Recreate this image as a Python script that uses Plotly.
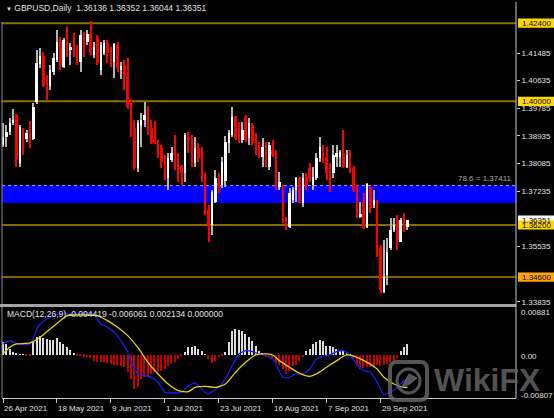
import plotly.graph_objects as go

# ---------------- GBPUSD daily candles (26 Apr 2021 -> 11 Oct 2021) ----------------
opens = [1.38658, 1.38904, 1.39058, 1.39334, 1.39580, 1.38105, 1.39088, 1.38843, 1.38966, 1.38843,
         1.39979, 1.41147, 1.41393, 1.40563, 1.40471, 1.40901, 1.41270, 1.41823, 1.41055, 1.42038,
         1.41577, 1.41577, 1.41485, 1.41208, 1.42038, 1.41823, 1.42069, 1.41423, 1.41976, 1.40962,
         1.41485, 1.41792, 1.41515, 1.41208, 1.41731, 1.40962, 1.41116, 1.40778, 1.39856, 1.39181,
         1.37952, 1.39242, 1.39426, 1.39549, 1.39181, 1.38843, 1.38751, 1.38597, 1.38290, 1.37644,
         1.38197, 1.38351, 1.37982, 1.38013, 1.37798, 1.38904, 1.38873, 1.38105, 1.38566, 1.38259,
         1.37737, 1.36661, 1.36201, 1.36907, 1.37491, 1.37429, 1.37552, 1.38720, 1.38966, 1.39519,
         1.39027, 1.38812, 1.39519, 1.38873, 1.39273, 1.38751, 1.38443, 1.38290, 1.38658, 1.37982,
         1.38505, 1.38443, 1.37368, 1.37368, 1.36416, 1.36139, 1.36969, 1.37276, 1.37644, 1.36876,
         1.37675, 1.37952, 1.37429, 1.37644, 1.38259, 1.38566, 1.38290, 1.37890, 1.37798, 1.38290,
         1.38290, 1.38413, 1.37982, 1.38259, 1.37952, 1.37368, 1.36446, 1.36907, 1.36139, 1.37368,
         1.36815, 1.36907, 1.35525, 1.34142, 1.34664, 1.35494, 1.36047, 1.36354, 1.35678, 1.36416,
         1.36136]
highs = [1.39334, 1.39273, 1.39488, 1.39764, 1.39611, 1.39273, 1.39181, 1.39119, 1.39396, 1.39949,
         1.41577, 1.41638, 1.41515, 1.40809, 1.41116, 1.41485, 1.42191, 1.41976, 1.41946, 1.42284,
         1.41792, 1.42099, 1.41731, 1.42191, 1.42130, 1.42191, 1.42468, 1.41823, 1.42038, 1.41823,
         1.41884, 1.41884, 1.41669, 1.41792, 1.41823, 1.41208, 1.41270, 1.41331, 1.40072, 1.39426,
         1.39426, 1.39641, 1.39979, 1.39856, 1.39426, 1.39396, 1.38812, 1.38658, 1.38351, 1.38413,
         1.38597, 1.38966, 1.38413, 1.38044, 1.39027, 1.39058, 1.38966, 1.38904, 1.38720, 1.38597,
         1.37798, 1.36815, 1.37276, 1.37890, 1.37798, 1.38290, 1.38935, 1.39119, 1.39826, 1.39549,
         1.39365, 1.39365, 1.39580, 1.39488, 1.39334, 1.39027, 1.38751, 1.38873, 1.38751, 1.38751,
         1.38812, 1.38505, 1.37829, 1.37429, 1.36446, 1.37337, 1.37368, 1.37675, 1.37675, 1.37798,
         1.37798, 1.38105, 1.37982, 1.38413, 1.38904, 1.38658, 1.38597, 1.38105, 1.38658, 1.38658,
         1.38505, 1.39119, 1.38505, 1.38505, 1.38013, 1.37429, 1.36907, 1.37184, 1.37491, 1.37399,
         1.37276, 1.36969, 1.35586, 1.35740, 1.35801, 1.36416, 1.36416, 1.36508, 1.36416, 1.36569,
         1.36352]
lows = [1.38597, 1.38597, 1.38966, 1.39273, 1.37982, 1.37982, 1.38351, 1.38751, 1.38566, 1.38812,
        1.39918, 1.41024, 1.40440, 1.40041, 1.40348, 1.40809, 1.41208, 1.40962, 1.41024, 1.41362,
        1.41116, 1.41362, 1.41116, 1.40901, 1.41362, 1.41731, 1.41423, 1.41331, 1.41116, 1.40809,
        1.41423, 1.41177, 1.41055, 1.40717, 1.40901, 1.40686, 1.40348, 1.39764, 1.38904, 1.37890,
        1.37829, 1.38597, 1.39211, 1.38966, 1.38689, 1.38689, 1.38259, 1.37952, 1.37583, 1.37276,
        1.38136, 1.37890, 1.37522, 1.37429, 1.37522, 1.38413, 1.37982, 1.37982, 1.38136, 1.37522,
        1.36508, 1.35678, 1.35893, 1.36876, 1.37184, 1.37337, 1.37368, 1.38413, 1.38904, 1.38812,
        1.38720, 1.38720, 1.38751, 1.38658, 1.38658, 1.38351, 1.38259, 1.37982, 1.37982, 1.37890,
        1.38290, 1.37276, 1.37276, 1.36262, 1.36047, 1.36108, 1.36876, 1.36907, 1.36876, 1.36754,
        1.37276, 1.37522, 1.37276, 1.37583, 1.38136, 1.38105, 1.37583, 1.37214, 1.37644, 1.37982,
        1.37982, 1.37952, 1.37952, 1.37798, 1.37214, 1.36416, 1.36416, 1.36078, 1.36108, 1.36569,
        1.36723, 1.35217, 1.34112, 1.34112, 1.34357, 1.35433, 1.35986, 1.35433, 1.35678, 1.35986,
        1.36044]
closes = [1.38904, 1.39058, 1.39334, 1.39426, 1.38197, 1.39211, 1.38843, 1.39027, 1.38843, 1.39826,
          1.41177, 1.41393, 1.40471, 1.40471, 1.40962, 1.41331, 1.41823, 1.41116, 1.41884, 1.41423,
          1.41669, 1.41485, 1.41177, 1.42038, 1.41792, 1.42069, 1.41485, 1.41669, 1.41177, 1.41731,
          1.41792, 1.41485, 1.41116, 1.41761, 1.41024, 1.41085, 1.40778, 1.39826, 1.39181, 1.37952,
          1.39334, 1.39426, 1.39580, 1.39119, 1.38720, 1.38751, 1.38290, 1.38136, 1.37644, 1.38259,
          1.38413, 1.37952, 1.37921, 1.37798, 1.38966, 1.38812, 1.38105, 1.38566, 1.38259, 1.37583,
          1.36661, 1.36139, 1.37214, 1.37644, 1.37399, 1.38136, 1.38751, 1.39027, 1.39519, 1.38873,
          1.38751, 1.39119, 1.38812, 1.39334, 1.38720, 1.38443, 1.38290, 1.38597, 1.38351, 1.38658,
          1.38351, 1.37368, 1.37522, 1.36293, 1.36139, 1.37184, 1.37276, 1.37644, 1.36907, 1.37644,
          1.37429, 1.37644, 1.37675, 1.38259, 1.38597, 1.38259, 1.37798, 1.37644, 1.38351, 1.38413,
          1.38443, 1.37982, 1.38351, 1.37829, 1.37276, 1.36446, 1.36538, 1.36108, 1.37460, 1.36723,
          1.36969, 1.35494, 1.34204, 1.34603, 1.35371, 1.36047, 1.36201, 1.35740, 1.36354, 1.36047,
          1.36351]

# ---------------- MACD(12,26,9) sub-window ----------------
macd_hist = [0.00238, 0.00206, 0.00113, 0.00050, 0.00019, 0.00006, 0.00013, -0.00006, -0.00025, 0.00238,
             0.00331, 0.00350, 0.00313, 0.00300, 0.00288, 0.00288, 0.00313, 0.00238, 0.00206, 0.00144,
             0.00100, 0.00019, -0.00025, -0.00025, -0.00031, -0.00044, -0.00063, -0.00106, -0.00138, -0.00138,
             -0.00138, -0.00150, -0.00169, -0.00188, -0.00188, -0.00213, -0.00231, -0.00325, -0.00450, -0.00638,
             -0.00606, -0.00450, -0.00419, -0.00388, -0.00356, -0.00325, -0.00325, -0.00294, -0.00263, -0.00213,
             -0.00169, -0.00125, -0.00075, -0.00025, 0.00063, 0.00144, 0.00144, 0.00175, 0.00113, 0.00081,
             0.00003, -0.00075, -0.00150, -0.00106, -0.00044, -0.00002, 0.00063, 0.00238, 0.00456, 0.00488,
             0.00475, 0.00456, 0.00394, 0.00331, 0.00269, 0.00175, 0.00081, 0.00038, -0.00044, -0.00044,
             -0.00075, -0.00125, -0.00188, -0.00263, -0.00356, -0.00294, -0.00213, -0.00188, -0.00106, -0.00044,
             0.00081, 0.00113, 0.00206, 0.00250, 0.00288, 0.00269, 0.00175, 0.00175, 0.00144, 0.00113,
             0.00081, 0.00081, 0.00038, 0.00002, -0.00075, -0.00213, -0.00263, -0.00250, -0.00231, -0.00231,
             -0.00213, -0.00188, -0.00213, -0.00188, -0.00169, -0.00138, -0.00106, -0.00063, 0.00081, 0.00144,
             0.002134]

macd_idx = [0, 2, 3, 5, 8, 9, 10, 11, 13, 15, 17, 22, 25, 27, 28, 29, 31, 33, 35, 37,
            38, 39, 40, 42, 44, 46, 48, 50, 53, 55, 57, 58, 60, 61, 62, 64, 66, 68, 70, 72,
            74, 76, 78, 80, 81, 83, 85, 87, 89, 91, 93, 95, 97, 99, 101, 103, 105, 107, 109, 111,
            113, 115, 117, 119, 120]
macd_line = [0.00206, 0.00269, 0.00238, 0.00206, 0.00206, 0.00300, 0.00488, 0.00581, 0.00675, 0.00738,
             0.00769, 0.00769, 0.00788, 0.00769, 0.00675, 0.00581, 0.00519, 0.00425, 0.00269, 0.00050,
             -0.00138, -0.00263, -0.00356, -0.00388, -0.00419, -0.00513, -0.00700, -0.00713, -0.00700, -0.00575,
             -0.00525, -0.00575, -0.00700, -0.00731, -0.00688, -0.00606, -0.00450, -0.00200, 0.00019, 0.00081,
             0.00063, 0.00019, -0.00013, -0.00075, -0.00169, -0.00419, -0.00419, -0.00356, -0.00356, -0.00263,
             -0.00075, -0.00025, 0.00000, 0.00063, 0.00081, -0.00013, -0.00169, -0.00294, -0.00325, -0.00513,
             -0.00750, -0.00700, -0.00606, -0.00481, -0.004419]

signal_idx = [0, 2, 4, 8, 11, 14, 17, 19, 22, 25, 28, 31, 34, 37, 40, 43, 46, 49, 52, 55,
              57, 60, 63, 66, 69, 72, 75, 78, 80, 82, 85, 88, 91, 93, 96, 99, 102, 105, 108, 111,
              113, 116, 119, 120]
signal_line = [0.00019, 0.00144, 0.00206, 0.00225, 0.00331, 0.00488, 0.00644, 0.00738, 0.00750, 0.00750,
               0.00738, 0.00644, 0.00519, 0.00363, 0.00144, -0.00138, -0.00356, -0.00544, -0.00669, -0.00688,
               -0.00606, -0.00588, -0.00606, -0.00544, -0.00325, -0.00138, 0.00000, 0.00019, 0.00000, -0.00106,
               -0.00231, -0.00344, -0.00400, -0.00356, -0.00231, -0.00106, 0.00000, -0.00044, -0.00138, -0.00263,
               -0.00419, -0.00544, -0.00606, -0.006061]

# ---------------- axes / annotations content ----------------
date_ticks = [0, 16, 32, 48, 64, 80, 96, 112]
date_labels = ["26 Apr 2021", "18 May 2021", "9 Jun 2021", "1 Jul 2021",
               "23 Jul 2021", "16 Aug 2021", "7 Sep 2021", "29 Sep 2021"]
price_ticks = [1.41485, 1.40635, 1.39785, 1.38935, 1.38085,
               1.37235, 1.35535, 1.33835]
levels = [1.42400, 1.40000, 1.36200, 1.34600]
level_line_colors = ["#8A7200", "#8A7200", "#B39000", "#B87A00"]
level_box_colors = ["#FFD700", "#FFD700", "#FFD700", "#FFA500"]
fib_ratio = 78.6
fib_level = 1.37411
fib_zone_low = 1.36880
macd_top, macd_bottom = 0.00881, -0.00807

# ---------------- geometry helpers (pixel -> paper) ----------------
W, H = 554, 418
PL, PR, PT, PB = 2, 516, 2, 398


def fx(px):
    return (px - PL) / (PR - PL)


def fy(py):
    return (PB - py) / (PB - PT)


main_range = [1.33773, 1.43052]
px_per_unit = (304 - PT) / (main_range[1] - main_range[0])
X_RANGE = [-0.3, 152.2]

TXT = "#E0E0E0"
FONT = "Liberation Sans, Arial, sans-serif"

n = len(closes)
idx = list(range(n))
up = [c >= o for o, c in zip(opens, closes)]

fig = go.Figure()

# candle wicks
fig.add_trace(go.Bar(
    x=idx, y=[h - l for h, l in zip(highs, lows)], base=lows, width=0.3,
    marker=dict(color=["#B4B4B4" if u else "#FF0000" for u in up], line=dict(width=0)),
    xaxis="x", yaxis="y", hoverinfo="skip"))
# candle bodies
fig.add_trace(go.Bar(
    x=idx, y=[max(abs(c - o), 0.00028) for o, c in zip(opens, closes)],
    base=[min(o, c) for o, c in zip(opens, closes)], width=0.74,
    marker=dict(color=["#FFFFFF" if u else "#FF0000" for u in up], line=dict(width=0)),
    xaxis="x", yaxis="y", hoverinfo="skip"))

# MACD histogram and lines
fig.add_trace(go.Bar(
    x=idx, y=macd_hist, width=0.42,
    marker=dict(color=["#DCDCDC" if v >= 0 else "#C80000" for v in macd_hist], line=dict(width=0)),
    xaxis="x2", yaxis="y2", hoverinfo="skip"))
fig.add_trace(go.Scatter(
    x=macd_idx, y=macd_line, mode="lines", line=dict(color="#1A1AFF", width=1.3, shape="spline", smoothing=0.5),
    xaxis="x2", yaxis="y2", hoverinfo="skip"))
fig.add_trace(go.Scatter(
    x=signal_idx, y=signal_line, mode="lines", line=dict(color="#E6D200", width=1.3, shape="spline", smoothing=0.6),
    xaxis="x2", yaxis="y2", hoverinfo="skip"))

shapes = []
# fibonacci zone
shapes.append(dict(type="rect", xref="paper", yref="y", x0=0, x1=1, y0=fib_zone_low, y1=fib_level,
                   fillcolor="#0000FF", line=dict(width=0), layer="below"))
shapes.append(dict(type="line", xref="paper", yref="y", x0=0, x1=1, y0=fib_level, y1=fib_level,
                   line=dict(color="#9A9AFF", width=1, dash="dot"), layer="below"))
# horizontal levels
for lv, col in zip(levels, level_line_colors):
    shapes.append(dict(type="line", xref="paper", yref="y", x0=0, x1=1, y0=lv, y1=lv,
                       line=dict(color=col, width=2 if lv >= 1.39 else 1.5), layer="below"))

# frame lines
shapes.append(dict(type="line", xref="paper", yref="paper", x0=0, x1=0, y0=fy(22), y1=fy(304),
                   line=dict(color="#8C8C8C", width=1), layer="above"))
shapes.append(dict(type="line", xref="paper", yref="paper", x0=0, x1=0, y0=0, y1=fy(307),
                   line=dict(color="#8C8C8C", width=1), layer="above"))
shapes.append(dict(type="rect", xref="paper", yref="paper", x0=fx(0), x1=1, y0=fy(307), y1=fy(304),
                   fillcolor="#A4A4A4", line=dict(width=0), layer="above"))
shapes.append(dict(type="line", xref="paper", yref="paper", x0=1, x1=1, y0=0, y1=1,
                   line=dict(color="#C8C8C8", width=1), layer="above"))

# price boxes on the scale
half_box = 4.6 / px_per_unit
box_x0, box_x1 = fx(518), fx(556)
annotations = []
shapes.append(dict(type="rect", xref="paper", yref="y", x0=box_x0, x1=box_x1,
                   y0=closes[-1] - half_box, y1=closes[-1] + half_box,
                   fillcolor="#FFFFFF", line=dict(width=0), layer="above"))
annotations.append(dict(xref="paper", yref="y", x=fx(520), y=closes[-1], xanchor="left", yanchor="middle",
                        text=f"{closes[-1]:.5f}", showarrow=False, font=dict(size=8, color="#000000")))
for lv, bg in zip(levels, level_box_colors):
    shapes.append(dict(type="rect", xref="paper", yref="y", x0=box_x0, x1=box_x1,
                       y0=lv - half_box, y1=lv + half_box, fillcolor=bg, line=dict(width=0), layer="above"))

# WikiFX mark
lx0, lx1, ly0, ly1 = fx(390), fx(427), fy(400), fy(362)
rx, ry = 7 / (PR - PL), 7 / (PB - PT)
logo = (f"M {lx0+rx},{ly1} L {lx1-rx},{ly1} Q {lx1},{ly1} {lx1},{ly1-ry} L {lx1},{ly0+ry} "
        f"Q {lx1},{ly0} {lx1-rx},{ly0} L {lx0+rx},{ly0} Q {lx0},{ly0} {lx0},{ly0+ry} "
        f"L {lx0},{ly1-ry} Q {lx0},{ly1} {lx0+rx},{ly1} Z")
shapes.append(dict(type="path", xref="paper", yref="paper", path=logo,
                   line=dict(color="rgba(105,105,105,0.8)", width=4), fillcolor="rgba(0,0,0,0)", layer="above"))
shapes.append(dict(type="circle", xref="paper", yref="paper", x0=fx(397), x1=fx(420), y0=fy(393), y1=fy(369),
                   line=dict(color="rgba(105,105,105,0.8)", width=3), fillcolor="rgba(0,0,0,0)", layer="above"))
shapes.append(dict(type="path", xref="paper", yref="paper",
                   path=f"M {fx(401)},{fy(388)} L {fx(409)},{fy(374)} L {fx(417)},{fy(378)} L {fx(410)},{fy(384)} Z",
                   line=dict(color="rgba(105,105,105,0.8)", width=1), fillcolor="rgba(105,105,105,0.8)",
                   layer="above"))

for lv in levels:
    annotations.append(dict(xref="paper", yref="y", x=fx(520), y=lv, xanchor="left", yanchor="middle",
                            text=f"{lv:.5f}", showarrow=False, font=dict(size=8, color="#000000")))

annotations.append(dict(xref="paper", yref="y", x=fx(514), y=fib_level, xanchor="right", yanchor="bottom",
                        yshift=1, text=f"{fib_ratio} = {fib_level:.5f}", showarrow=False,
                        font=dict(size=8, color="#A8A8A8")))

# chart headers
annotations.append(dict(xref="paper", yref="paper", x=fx(4), y=fy(8), xanchor="left", yanchor="middle",
                        text=(f"<span style='font-size:6px'>▼</span> GBPUSD,Daily  "
                              f"{opens[-1]:.5f} {highs[-1]:.5f} {lows[-1]:.5f} {closes[-1]:.5f}"),
                        showarrow=False, font=dict(size=8.5, color=TXT)))
annotations.append(dict(xref="paper", yref="paper", x=fx(5), y=fy(314), xanchor="left", yanchor="middle",
                        text=(f"MACD(12,26,9) {macd_line[-1]:.6f} {signal_line[-1]:.6f} "
                              f"{macd_hist[-1]:.6f} 0.000000"),
                        showarrow=False, font=dict(size=8.5, color=TXT)))

# MACD scale labels
for val, py in [(macd_top, 312), (0.0, 356), (macd_bottom, 395)]:
    txt = "0.00" if val == 0 else f"{val:.5f}"
    annotations.append(dict(xref="paper", yref="paper", x=fx(519), y=fy(py), xanchor="left", yanchor="middle",
                            text=txt, showarrow=False, font=dict(size=8, color=TXT)))

# date labels
for t, lab in zip(date_ticks, date_labels):
    annotations.append(dict(xref="x2", yref="paper", x=t, y=fy(408), xanchor="left", yanchor="middle",
                            xshift=-1, text=lab, showarrow=False, font=dict(size=8, color=TXT)))

annotations.append(dict(xref="paper", yref="paper", x=fx(432), y=fy(380), xanchor="left", yanchor="middle",
                        text="<b>WikiFX</b>", showarrow=False,
                        font=dict(size=32, color="rgba(105,105,105,0.8)", family="Liberation Sans, Arial")))

fig.update_layout(
    width=W, height=H, margin=dict(l=PL, r=W - PR, t=PT, b=H - PB),
    paper_bgcolor="#000000", plot_bgcolor="#000000", showlegend=False,
    barmode="overlay", bargap=0, font=dict(family=FONT, color=TXT, size=8),
    xaxis=dict(domain=[0, 1], range=X_RANGE, visible=False, anchor="y"),
    yaxis=dict(domain=[fy(304), 1], range=main_range, side="right", anchor="x",
               tickvals=price_ticks, tickformat=".5f", ticks="outside", ticklen=3, tickcolor="#C8C8C8",
               tickfont=dict(size=8, color=TXT), showgrid=False, zeroline=False, showline=False),
    xaxis2=dict(domain=[0, 1], range=X_RANGE, anchor="y2", tickvals=date_ticks, ticks="outside",
                ticklen=4, tickcolor="#C8C8C8", showticklabels=False, showline=True, linecolor="#C8C8C8",
                linewidth=1, showgrid=False, zeroline=False),
    yaxis2=dict(domain=[0, fy(308)], range=[macd_bottom, macd_top], side="right", anchor="x2",
                showticklabels=False, showgrid=False, zeroline=False, ticks=""),
    shapes=shapes, annotations=annotations,
)

fig.write_html("out.html")
